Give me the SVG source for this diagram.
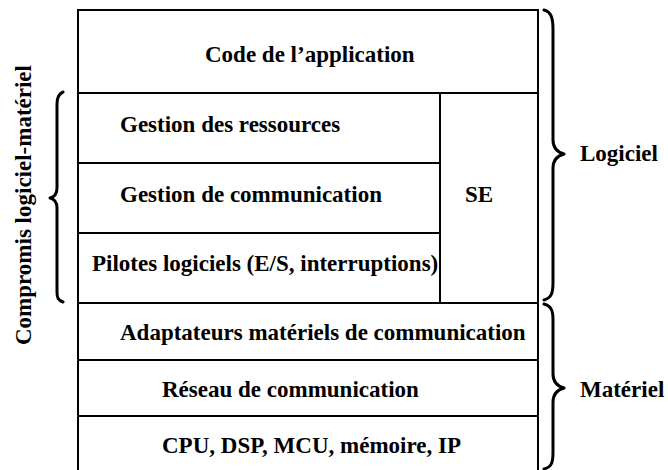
<svg xmlns="http://www.w3.org/2000/svg" width="668" height="470" viewBox="0 0 668 470">
  <style>
    .t{font-family:'Liberation Serif','DejaVu Serif',serif;font-weight:700;font-size:23px;fill:#000}
    .box{stroke:#000;stroke-width:2;fill:#fff}
    .br{stroke:#000;stroke-width:3;fill:none;stroke-linecap:round;stroke-linejoin:round}
  </style>
  <rect width="668" height="470" fill="#fff"/>

  <!-- software/hardware layer stack -->
  <g id="app">
    <rect class="box" x="78" y="10" width="460" height="83"/>
    <text class="t" x="205" y="62">Code de l’application</text>
  </g>
  <g id="ressources">
    <rect class="box" x="78" y="93" width="362" height="70"/>
    <text class="t" x="120" y="132">Gestion des ressources</text>
  </g>
  <g id="communication">
    <rect class="box" x="78" y="163" width="362" height="70"/>
    <text class="t" x="120" y="202">Gestion de communication</text>
  </g>
  <g id="pilotes">
    <rect class="box" x="78" y="233" width="362" height="70"/>
    <text class="t" x="92" y="271">Pilotes logiciels (E/S, interruptions)</text>
  </g>
  <g id="se">
    <rect class="box" x="440" y="93" width="98" height="210"/>
    <text class="t" x="465" y="202">SE</text>
  </g>
  <g id="adaptateurs">
    <rect class="box" x="78" y="303" width="460" height="57"/>
    <text class="t" x="120" y="340">Adaptateurs matériels de communication</text>
  </g>
  <g id="reseau">
    <rect class="box" x="78" y="360" width="460" height="56"/>
    <text class="t" x="162" y="397">Réseau de communication</text>
  </g>
  <g id="cpu">
    <rect class="box" x="78" y="416" width="460" height="60"/>
    <text class="t" x="162" y="453">CPU, DSP, MCU, mémoire, IP</text>
  </g>

  <!-- grouping braces -->
  <g id="braces">
    <path class="br" d="M63,92 C58,94 57,98 57,104 L57,188 C57,194 54,197 50,198 C54,199 57,202 57,208 L57,292 C57,298 58,300 63,302"/>
    <path class="br" d="M544,10 C552,12 553,20 553,30 L553,140 C553,148 557,152 564,154 C557,156 553,160 553,168 L553,282 C553,292 552,298 544,300"/>
    <path class="br" d="M544,304 C552,306 553,312 553,320 L553,374 C553,382 557,386 564,388 C557,390 553,394 553,402 L553,452 C553,462 552,467 544,469"/>
  </g>

  <g id="labels">
    <text class="t" x="580" y="161">Logiciel</text>
    <text class="t" x="580" y="397">Matériel</text>
    <text class="t" transform="translate(31,345) rotate(-90)">Compromis logiciel-matériel</text>
  </g>
</svg>
